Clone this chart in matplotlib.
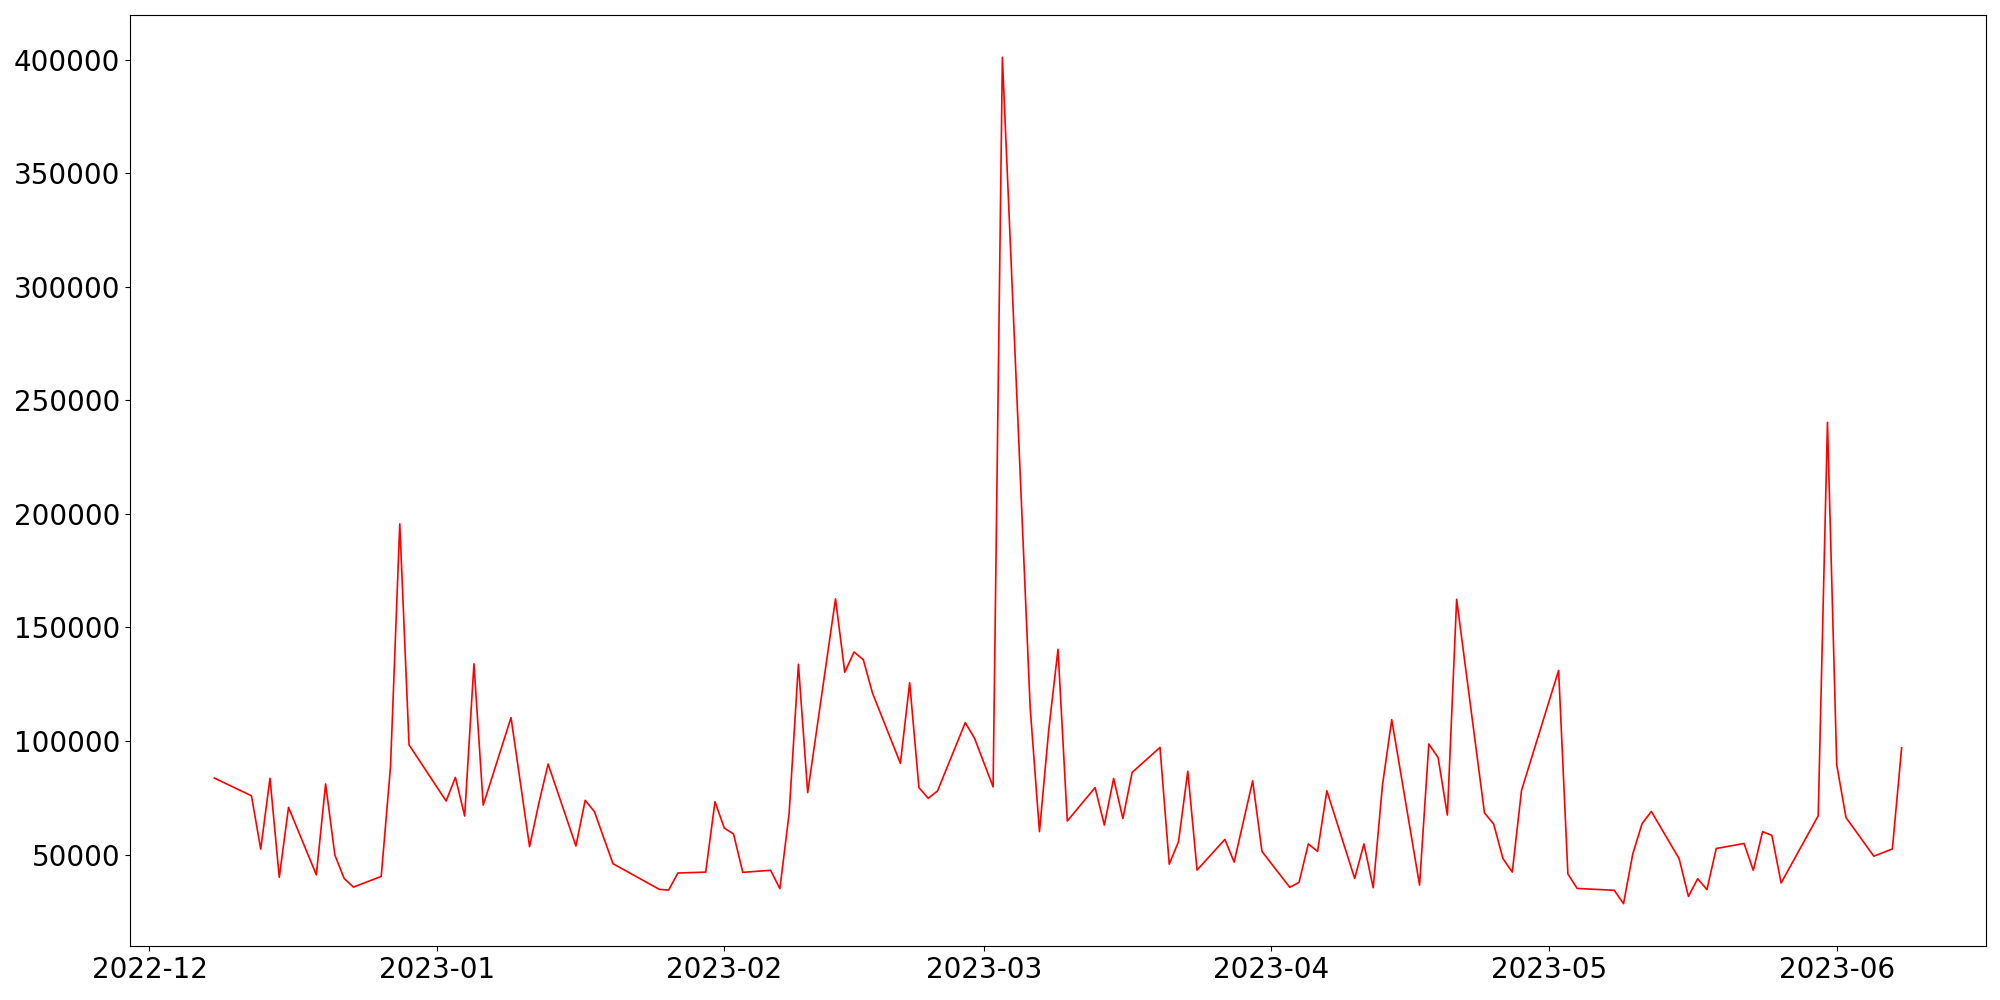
import pandas as pd
import matplotlib
matplotlib.use("Agg")
import matplotlib.pyplot as plt

dates = [
    "2022-12-08", "2022-12-12", "2022-12-13", "2022-12-14", "2022-12-15", "2022-12-16",
    "2022-12-19", "2022-12-20", "2022-12-21", "2022-12-22", "2022-12-23",
    "2022-12-26", "2022-12-27", "2022-12-28", "2022-12-29",
    "2023-01-02", "2023-01-03", "2023-01-04", "2023-01-05", "2023-01-06",
    "2023-01-09", "2023-01-11", "2023-01-12", "2023-01-13",
    "2023-01-16", "2023-01-17", "2023-01-18", "2023-01-19", "2023-01-20",
    "2023-01-25", "2023-01-26", "2023-01-27",
    "2023-01-30", "2023-01-31", "2023-02-01", "2023-02-02", "2023-02-03",
    "2023-02-06", "2023-02-07", "2023-02-08", "2023-02-09", "2023-02-10",
    "2023-02-13", "2023-02-14", "2023-02-15", "2023-02-16", "2023-02-17",
    "2023-02-20", "2023-02-21", "2023-02-22", "2023-02-23", "2023-02-24",
    "2023-02-27", "2023-02-28", "2023-03-02", "2023-03-03",
    "2023-03-06", "2023-03-07", "2023-03-08", "2023-03-09", "2023-03-10",
    "2023-03-13", "2023-03-14", "2023-03-15", "2023-03-16", "2023-03-17",
    "2023-03-20", "2023-03-21", "2023-03-22", "2023-03-23", "2023-03-24",
    "2023-03-27", "2023-03-28", "2023-03-30", "2023-03-31",
    "2023-04-03", "2023-04-04", "2023-04-05", "2023-04-06", "2023-04-07",
    "2023-04-10", "2023-04-11", "2023-04-12", "2023-04-13", "2023-04-14",
    "2023-04-17", "2023-04-18", "2023-04-19", "2023-04-20", "2023-04-21",
    "2023-04-24", "2023-04-25", "2023-04-26", "2023-04-27", "2023-04-28",
    "2023-05-02", "2023-05-03", "2023-05-04",
    "2023-05-08", "2023-05-09", "2023-05-10", "2023-05-11", "2023-05-12",
    "2023-05-15", "2023-05-16", "2023-05-17", "2023-05-18", "2023-05-19",
    "2023-05-22", "2023-05-23", "2023-05-24", "2023-05-25", "2023-05-26",
    "2023-05-30", "2023-05-31", "2023-06-01", "2023-06-02",
    "2023-06-05", "2023-06-07", "2023-06-08",
]

values = [
    83700, 75900, 52400, 83600, 40000, 70800,
    41100, 81100, 49800, 39500, 35700,
    40400, 88700, 195600, 98300,
    73600, 84000, 67000, 134000, 71800,
    110300, 53500, 72600, 89900,
    53800, 73900, 68900, 57400, 46000,
    34700, 34400, 41900,
    42300, 73300, 61700, 59100, 42200,
    43100, 35000, 68200, 133800, 77300,
    162600, 130300, 139200, 135800, 121000,
    90200, 125700, 79500, 74800, 78000,
    108100, 101200, 79800, 401000,
    114600, 60100, 104800, 140400, 64800,
    79500, 63000, 83500, 65900, 86200,
    97200, 45800, 55700, 86700, 43200,
    56700, 46700, 82500, 51400,
    35600, 37800, 54700, 51400, 78100,
    39500, 54700, 35400, 80600, 109400,
    36600, 98700, 92700, 67400, 162400,
    68400, 63400, 48200, 42300, 78300,
    131100, 41500, 35100,
    34300, 28400, 50300, 63600, 69000,
    48200, 31600, 39400, 34600, 52700,
    54900, 43100, 60100, 58500, 37500,
    67100, 240300, 89500, 66300,
    49300, 52500, 97000,
]

x = pd.to_datetime(dates)

fig, ax = plt.subplots(figsize=(20, 10), dpi=100)
ax.plot(x, values, color="red", linewidth=1.2)
ax.tick_params(axis="both", labelsize=20)
plt.subplots_adjust(left=0.065, right=0.993, top=0.985, bottom=0.054)
plt.savefig("out.png")
